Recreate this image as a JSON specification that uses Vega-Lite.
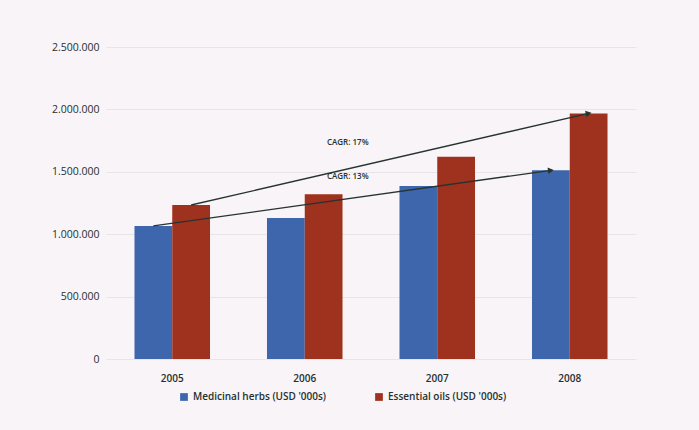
{
  "$schema": "https://vega.github.io/schema/vega-lite/v6.json",
  "autosize": {"type": "none"},
  "width": 530,
  "height": 312,
  "padding": {"left": 106, "top": 47, "right": 63, "bottom": 71},
  "background": "#f8f4f7",
  "config": {
    "locale": {"number": {"decimal": ",", "thousands": ".", "grouping": [3], "currency": ["", ""]}},
    "view": {"stroke": null},
    "font": "Open Sans"
  },
  "datasets": {
    "bars": [
      {"year": "2005", "series": "Medicinal herbs (USD '000s)", "value": 1066000},
      {"year": "2005", "series": "Essential oils (USD '000s)", "value": 1234000},
      {"year": "2006", "series": "Medicinal herbs (USD '000s)", "value": 1130000},
      {"year": "2006", "series": "Essential oils (USD '000s)", "value": 1320000},
      {"year": "2007", "series": "Medicinal herbs (USD '000s)", "value": 1386000},
      {"year": "2007", "series": "Essential oils (USD '000s)", "value": 1620000},
      {"year": "2008", "series": "Medicinal herbs (USD '000s)", "value": 1512000},
      {"year": "2008", "series": "Essential oils (USD '000s)", "value": 1968000}
    ],
    "labels": [
      {"year": "2006", "label": "CAGR: 17%", "value": 1731000},
      {"year": "2006", "label": "CAGR: 13%", "value": 1458000}
    ]
  },
  "encoding": {
    "x": {
      "field": "year", "type": "nominal",
      "scale": {"paddingInner": 0.43, "paddingOuter": 0.215},
      "axis": {"title": null, "labelAngle": 0, "domain": false, "ticks": false, "labelPadding": 14, "labelFontSize": 10, "labelFontWeight": 600, "labelColor": "#26302d", "labelFont": "Open Sans"}
    },
    "y": {
      "field": "value", "type": "quantitative",
      "scale": {"domain": [0, 2500000]},
      "axis": {"title": null, "values": [0, 500000, 1000000, 1500000, 2000000, 2500000], "format": ",d", "domain": false, "ticks": false, "labelPadding": 7, "labelFontSize": 10.5, "labelColor": "#26302d", "gridColor": "#e9e4e8", "gridWidth": 1, "labelFont": "Open Sans"}
    }
  },
  "layer": [
    {
      "data": {"name": "bars"},
      "mark": {"type": "bar"},
      "encoding": {
        "xOffset": {"field": "series", "type": "nominal", "sort": ["Medicinal herbs (USD '000s)", "Essential oils (USD '000s)"]},
        "color": {
          "field": "series", "type": "nominal",
          "sort": ["Medicinal herbs (USD '000s)", "Essential oils (USD '000s)"],
          "scale": {"domain": ["Medicinal herbs (USD '000s)", "Essential oils (USD '000s)"], "range": ["#3e66ad", "#9f321f"]},
          "legend": {"title": null, "orient": "none", "legendX": 73, "legendY": 345, "direction": "horizontal", "symbolType": "square", "symbolSize": 60, "symbolStrokeWidth": 0, "labelFontSize": 10, "labelFontWeight": 600, "labelColor": "#26302d", "columnPadding": 47, "labelFont": "Open Sans"}
        }
      }
    },
    {
      "data": {"name": "bars"},
      "transform": [{"filter": "datum.year == '2005' || datum.year == '2008'"}],
      "mark": {"type": "line", "color": "#26332f", "strokeWidth": 1.3},
      "encoding": {
        "xOffset": {"field": "series", "type": "nominal", "sort": ["Medicinal herbs (USD '000s)", "Essential oils (USD '000s)"]},
        "detail": {"field": "series"}
      }
    },
    {
      "data": {"name": "bars"},
      "transform": [{"filter": "datum.year == '2008' && datum.series == \"Essential oils (USD '000s)\""}],
      "mark": {"type": "point", "shape": "triangle-right", "filled": true, "color": "#26332f", "size": 45, "opacity": 1, "angle": -12},
      "encoding": {
        "xOffset": {"field": "series", "type": "nominal", "sort": ["Medicinal herbs (USD '000s)", "Essential oils (USD '000s)"]}
      }
    },
    {
      "data": {"name": "bars"},
      "transform": [{"filter": "datum.year == '2008' && datum.series == \"Medicinal herbs (USD '000s)\""}],
      "mark": {"type": "point", "shape": "triangle-right", "filled": true, "color": "#26332f", "size": 45, "opacity": 1, "angle": -8},
      "encoding": {
        "xOffset": {"field": "series", "type": "nominal", "sort": ["Medicinal herbs (USD '000s)", "Essential oils (USD '000s)"]}
      }
    },
    {
      "data": {"name": "labels"},
      "mark": {"type": "text", "dx": 43, "fontSize": 8, "fontWeight": 600, "color": "#26332f", "font": "Open Sans"},
      "encoding": {"text": {"field": "label"}}
    }
  ]
}
